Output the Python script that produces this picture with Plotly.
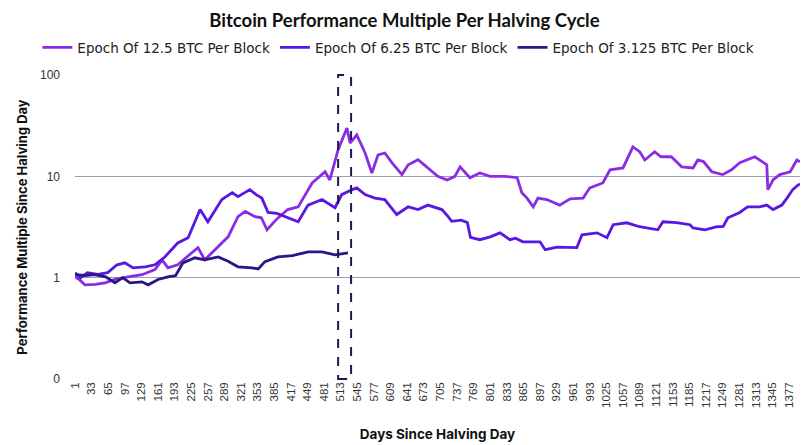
import plotly.graph_objects as go

# ---- data ----
days_125 = [1, 10, 20, 40, 59, 78, 103, 130, 155, 169, 180, 199, 226, 238, 251, 271, 296, 315, 329, 348,
            360, 371, 390, 411, 431, 458, 483, 492, 508, 525, 531, 544, 560, 573, 585, 598, 612, 631, 643, 662,
            681, 700, 718, 733, 743, 762, 781, 801, 830, 853, 862, 872, 884, 893, 910, 935, 955, 980, 993, 1018,
            1032, 1057, 1076, 1089, 1099, 1118, 1130, 1150, 1170, 1192, 1201, 1212, 1228, 1249, 1266, 1282, 1311,
            1334, 1336, 1346, 1359, 1379, 1392, 1398]
vals_125 = [1.02, 0.95, 0.85, 0.86, 0.89, 0.96, 1.02, 1.07, 1.2, 1.5, 1.25, 1.34, 1.76, 1.98, 1.5, 1.89, 2.53, 4.0, 4.5, 4.0,
            3.9, 2.97, 3.8, 4.7, 5.0, 8.6, 11.1, 9.2, 18.3, 30.0, 21.3, 25.6, 17.0, 10.8, 16.3, 17.0, 13.6, 10.4, 13.0, 14.6,
            12.1, 10.0, 9.2, 10.0, 12.4, 9.7, 10.8, 10.0, 10.0, 9.7, 6.9, 6.1, 5.0, 6.1, 5.9, 5.2, 6.0, 6.1, 7.7, 8.6,
            11.6, 12.1, 19.5, 17.5, 14.5, 17.5, 15.6, 15.6, 12.4, 12.1, 14.5, 14.0, 11.1, 10.4, 11.6, 13.6, 15.6,
            13.0, 7.4, 9.2, 10.4, 11.1, 14.5, 13.9]

days_625 = [1, 12, 25, 45, 64, 82, 97, 113, 136, 155, 174, 199, 219, 242, 257, 284, 304, 315, 338, 350,
            361, 373, 390, 406, 431, 450, 477, 502, 515, 535, 544, 560, 579, 598, 621, 643, 662, 681, 708, 720,
            727, 745, 757, 763, 781, 801, 820, 839, 850, 864, 897, 907, 930, 968, 978, 1007, 1026, 1038, 1064, 1089,
            1124, 1134, 1160, 1186, 1192, 1215, 1238, 1250, 1259, 1282, 1297, 1320, 1334, 1346, 1363, 1373, 1384,
            1394, 1398]
vals_625 = [1.12, 1.0, 1.12, 1.08, 1.12, 1.34, 1.4, 1.25, 1.28, 1.34, 1.6, 2.2, 2.48, 4.7, 3.56, 5.9, 6.9, 6.3, 7.4, 6.6,
            6.1, 4.4, 4.3, 4.0, 3.56, 5.2, 5.9, 4.9, 6.6, 7.4, 7.7, 6.6, 6.1, 5.9, 4.2, 5.0, 4.7, 5.2, 4.7, 4.0,
            3.6, 3.7, 3.5, 2.5, 2.37, 2.53, 2.77, 2.37, 2.45, 2.26, 2.26, 1.89, 2.0, 1.98, 2.65, 2.77, 2.48, 3.33, 3.48, 3.18,
            2.97, 3.56, 3.5, 3.33, 3.1, 2.97, 3.18, 3.2, 3.9, 4.4, 5.0, 5.0, 5.2, 4.7, 5.2, 6.1, 7.4,
            8.2, 8.4]

days_3125 = [1, 20, 39, 60, 78, 93, 107, 130, 142, 161, 180, 195, 209, 232, 251, 277, 296, 315, 342, 354,
             367, 392, 420, 450, 477, 502, 527]
vals_3125 = [1.07, 1.05, 1.07, 1.02, 0.89, 1.0, 0.89, 0.91, 0.85, 0.96, 1.02, 1.05, 1.4, 1.57, 1.5, 1.6, 1.45, 1.28, 1.25, 1.22,
             1.44, 1.6, 1.65, 1.8, 1.8, 1.68, 1.76]

x_ticks = list(range(1, 1378, 32))
y_ticks = [0.1, 1, 10, 100]
y_tick_text = ["0", "1", "10", "100"]
highlight_days = [508, 533]

series = [
    ("Epoch Of 12.5 BTC Per Block", days_125, vals_125, "#8A2BE6"),
    ("Epoch Of 6.25 BTC Per Block", days_625, vals_625, "#5A17E4"),
    ("Epoch Of 3.125 BTC Per Block", days_3125, vals_3125, "#2C1684"),
]

fig = go.Figure()
for name, d, v, c in series:
    fig.add_trace(go.Scatter(x=d, y=v, name=name, mode="lines",
                             line=dict(color=c, width=2.8)))

fig.add_shape(type="rect", xref="x", yref="paper",
              x0=highlight_days[0], x1=highlight_days[1], y0=0, y1=1,
              line=dict(color="#1B1A4E", width=2, dash="dash"))

# page body has an 8px offset, margins compensate for it
fig.update_layout(
    width=809, height=445,
    margin=dict(l=67, r=17, t=67, b=74, autoexpand=False),
    paper_bgcolor="white", plot_bgcolor="white",
    title=dict(text="<b>Bitcoin Performance Multiple Per Halving Cycle</b>",
               x=0.49, xanchor="center", y=0.972, yanchor="middle",
               font=dict(family="Lato", size=18.5, color="#111111", weight=900)),
    legend=dict(orientation="h", x=0.446, xanchor="center", y=1.09, yanchor="middle",
                font=dict(family="DejaVu Sans", size=13.5, color="#222222"),
                itemwidth=30, tracegroupgap=0),
    showlegend=True,
)

fig.update_xaxes(
    range=[1, 1398], tickmode="array", tickvals=x_ticks,
    ticktext=[str(t) for t in x_ticks], tickangle=-90,
    tickfont=dict(family="Liberation Sans", size=11.5, color="#333333"),
    showgrid=False, zeroline=False, showline=False, ticks="", automargin=False,
    title=dict(text="<b>Days Since Halving Day</b>", standoff=22,
               font=dict(family="Inter", size=13.5, color="#111111")),
)
fig.update_yaxes(
    type="log", range=[-1, 2], tickmode="array", tickvals=y_ticks, ticktext=y_tick_text,
    tickfont=dict(family="Liberation Sans", size=12, color="#333333"),
    showgrid=True, gridcolor="#9D9DB3", gridwidth=1.2, zeroline=False, showline=False,
    ticks="", ticklabelstandoff=14, automargin=False,
    title=dict(text="<b>Performance Multiple Since Halving Day</b>", standoff=9,
               font=dict(family="Inter", size=13, color="#111111")),
)

fig.write_html("out.html")
